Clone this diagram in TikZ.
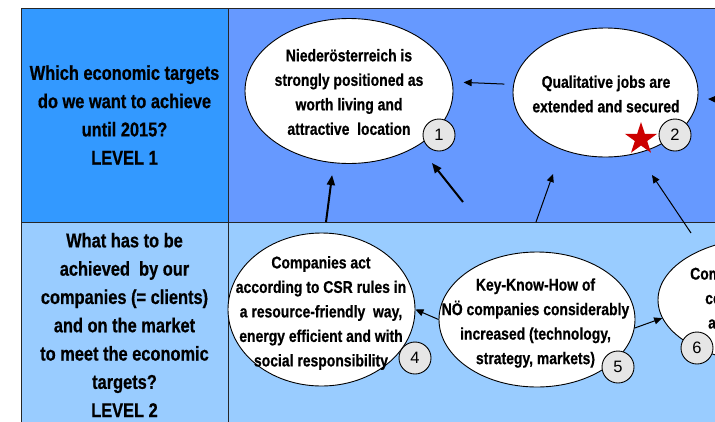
\documentclass[tikz,border=0pt]{standalone}
\usepackage{fontspec}
\setmainfont{Liberation Sans}[FakeStretch=0.82,BoldFeatures={FakeBold=0.6}]
\newfontfamily\numfont{Liberation Sans}
\usetikzlibrary{arrows.meta,shapes.geometric}
\definecolor{topleft}{HTML}{3399FF}
\definecolor{topright}{HTML}{6699FF}
\definecolor{bottomfill}{HTML}{99CCFF}
\definecolor{circlefill}{HTML}{E6E6E6}
\definecolor{starred}{HTML}{CC0000}
\begin{document}
\begin{tikzpicture}[x=1pt,y=-1pt,
  bubble/.style={ellipse,draw=black,line width=0.9pt,fill=white,inner sep=0pt},
  bubbletext/.style={align=center,font=\bfseries\fontsize{17}{24.5}\selectfont,inner sep=0pt},
  numbox/.style={circle,draw=black,line width=0.9pt,fill=circlefill,minimum size=32pt,inner sep=0pt,font=\numfont\fontsize{16.5}{18}\selectfont},
  question/.style={align=center,font=\bfseries\fontsize{20}{28.3}\selectfont,inner sep=0pt},
  thinarrow/.style={-{Triangle[length=8pt,width=7pt]},line width=1pt},
  thickarrow/.style={-{Triangle[length=10pt,width=8pt]},line width=2pt},
  gridline/.style={draw=black!85,line width=1pt}
]
\useasboundingbox (0,0) rectangle (715,421);
\clip (0,0) rectangle (715,421);
% backgrounds
\fill[topleft] (21,8.5) rectangle (228,222);
\fill[topright] (228,8.5) rectangle (730,222);
\fill[bottomfill] (21,222) rectangle (730,430);
\draw[gridline] (730,8.5) -- (21,8.5) -- (21,430);
\draw[gridline] (228,8.5) -- (228,430);
\draw[gridline] (21,222) -- (730,222);
% questions
\node[question] (q1) at (124.5,115) {Which economic targets\\do we want to achieve\\until 2015?\\LEVEL 1};
\node[question] (q2) at (124.5,325) {What has to be\\achieved\ \ by our\\companies (= clients)\\and on the market\\to meet the economic\\targets?\\LEVEL 2};
% ellipses
\node[bubble,minimum width=208pt,minimum height=145pt] (e1) at (349,91) {};
\node[bubbletext] (t1) at (349,92) {Niederösterreich is\\strongly positioned as\\worth living and\\attractive\ \ location};
\node[bubble,minimum width=185pt,minimum height=129pt] (e2) at (605.5,92.5) {};
\node[bubbletext] (t2) at (606,94) {Qualitative jobs are\\extended and secured};
\node[bubble,minimum width=187pt,minimum height=153pt] (e4) at (321.5,309.5) {};
\node[bubbletext] (t4) at (321,313) {Companies act\\according to CSR rules in\\a resource-friendly\ \ way,\\energy efficient and with\\social responsibility};
\node[bubble,minimum width=196pt,minimum height=135pt] (e5) at (537,319.5) {};
\node[bubbletext] (t5) at (535.5,323) {Key-Know-How of\\NÖ companies considerably\\increased (technology,\\strategy, markets)};
\node[bubble,minimum width=214pt,minimum height=124pt] (e6) at (765,300) {};
\node[bubbletext,align=left,anchor=north west] (t6) at (690,267.5) {Com\\\hspace*{15pt}co\\\hspace*{18pt}a};
% star and numbers
\node[star,star points=5,star point ratio=2.618,fill=starred,minimum size=34pt,inner sep=0pt] (s2) at (641,139) {};
\node[numbox] (n1) at (439,135) {1};
\node[numbox] (n2) at (675,135) {2};
\node[numbox] (n4) at (415,358) {4};
\node[numbox] (n5) at (618,367) {5};
\node[numbox] (n6) at (697,348) {6};
% connector end points
\coordinate (a4s) at (326,222);
\coordinate (a3s) at (463,202);
\coordinate (a3e) at (432,163);
\coordinate (a2s) at (536,222);
\coordinate (a2e) at (553,174);
\coordinate (a6s) at (691,233);
\coordinate (a6e) at (652,175);
\coordinate (r1s) at (740,100);
\coordinate (r1e) at (708,99);
% connectors
\draw[thinarrow,shorten <=9pt,shorten >=11pt] (e2.175) -- (e1.5);
\draw[thickarrow,shorten >=12pt] (a4s) -- (e1.258);
\draw[thickarrow] (a3s) -- (a3e);
\draw[thinarrow] (a2s) -- (a2e);
\draw[thinarrow] (a6s) -- (a6e);
\draw[thinarrow] (r1s) -- (r1e);
\draw[thinarrow] (e5.west) -- (e4.east);
\draw[thinarrow] (e5.-5) -- (e6.190);
\end{tikzpicture}
\end{document}
